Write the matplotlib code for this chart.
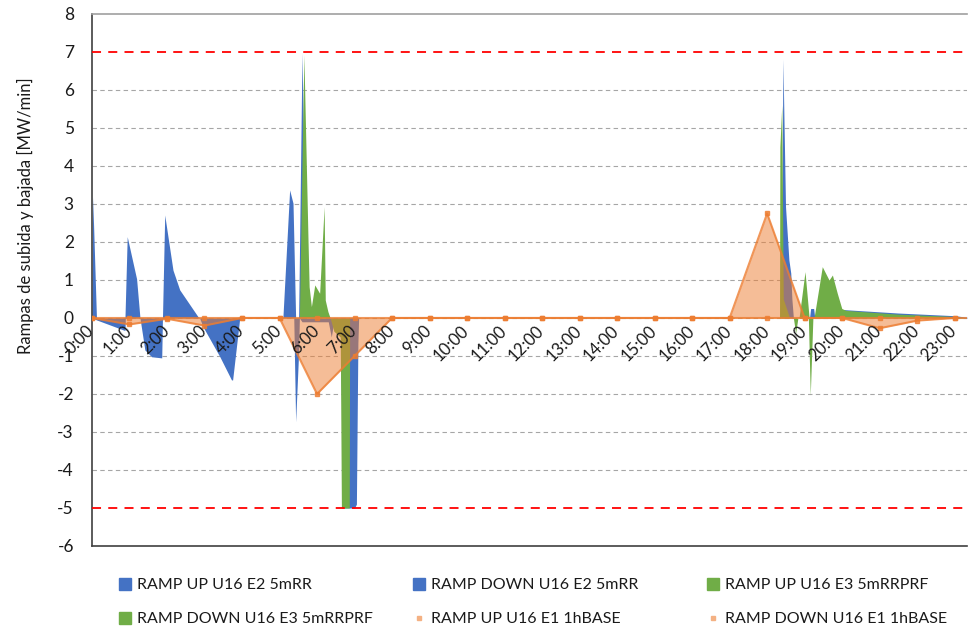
import numpy as np
import matplotlib.pyplot as plt
from matplotlib.lines import Line2D

plt.rcParams['font.family'] = ['Lato', 'DejaVu Sans']
plt.rcParams['axes.unicode_minus'] = False

# hourly categories on the axis
hour_labels = ['%d:00' % h for h in range(24)]
hours = np.arange(24)

# 5 min series, read as break points (hour, MW/min)
e2_up_t = [0, 0.02, 0.12, 0.88, 0.94, 1.19, 1.28, 1.88, 1.94, 2.16, 2.34, 2.83, 2.87,
           5.09, 5.27, 5.36, 5.43, 5.51, 5.60, 5.72, 18.38, 18.42, 18.49, 18.58, 18.63,
           18.66, 18.70, 19.13, 19.16, 19.24, 19.27, 19.40, 20.05, 21.5, 23.0, 23.33]
e2_up_v = [0, 3.18, 0, 0, 2.14, 1.03, 0, 0, 2.71, 1.26, 0.74, 0.03, 0,
           0, 3.37, 3.02, 0, 0, 6.97, 0, 0, 6.81, 2.93, 1.53, 1.18,
           0.5, 0, 0, 0.25, 0.25, 0, 0.2, 0.22, 0.13, 0.06, 0.02]

e2_down_t = [0, 0.12, 0.88, 0.89, 1.28, 1.41, 1.59, 1.86, 1.88, 2.87, 2.96, 3.41, 3.72, 3.75,
             3.94, 5.38, 5.43, 5.51, 5.53, 5.60, 6.30, 6.38, 6.45, 6.62, 6.70, 7.00, 7.05,
             7.09, 7.11, 23.33]
e2_down_v = [0, -0.05, -0.33, 0, 0, -0.84, -1.02, -1.05, 0, 0, -0.23, -1.02, -1.63, -1.63,
             0, 0, -2.73, -0.9, 0, -0.1, -0.1, -0.5, -0.1, -0.3, -5.0, -5.0, -4.9,
             -0.66, 0, 0]

e3_up_t = [0, 5.53, 5.65, 5.76, 5.79, 5.85, 5.94, 6.07, 6.19, 6.22, 6.29, 6.35, 18.33, 18.34,
           18.39, 18.43, 18.60, 18.85, 19.01, 19.12, 19.25, 19.47, 19.65, 19.74, 19.87, 19.99,
           20.10, 21.5, 23.0, 23.33]
e3_up_v = [0, 0, 6.92, 2.05, 0.82, 0.30, 0.87, 0.65, 2.93, 0.47, 0.17, 0, 0, 4.5,
           5.6, 0.5, 0, 0, 1.22, 0, 0, 1.35, 1.00, 1.13, 0.65, 0.25,
           0.20, 0.10, 0.04, 0]

e3_down_t = [0, 6.35, 6.45, 6.62, 6.65, 6.86, 6.87, 18.70, 18.76, 18.82, 19.10, 19.15, 19.22, 23.33]
e3_down_v = [0, 0, -0.35, -0.5, -5.0, -5.0, 0, 0, -0.4, 0, 0, -2.03, 0, 0]

# hourly base series
e1_up = [0, 0, 0, 0, 0, 0, 0, 0, 0, 0, 0, 0, 0, 0, 0, 0, 0, 0, 2.75, 0, 0, 0, 0, 0]
e1_down = [0, -0.17, -0.02, -0.2, 0, 0, -2.0, -1.0, 0, 0, 0, 0, 0, 0, 0, 0, 0, 0, 0, 0, 0,
           -0.27, -0.07, 0]

names = ['RAMP UP U16 E2 5mRR', 'RAMP DOWN U16 E2 5mRR', 'RAMP UP U16 E3 5mRRPRF',
         'RAMP DOWN U16 E3 5mRRPRF', 'RAMP UP U16 E1 1hBASE', 'RAMP DOWN U16 E1 1hBASE']

blue = '#4472C4'
green = '#70AD47'
orange = '#ED7D31'

fig = plt.figure(figsize=(9.69, 6.27), dpi=100)
ax = fig.add_axes([0.0949, 0.1292, 0.9031, 0.8485])

#grid
for y in range(-5, 8):
    if y in (7, -5):
        continue
    ax.axhline(y, color='#A6A6A6', lw=0.8, ls=(0, (4, 3)), zorder=0)

ax.fill_between(e2_up_t, e2_up_v, 0, color=blue, lw=0, zorder=1)
ax.fill_between(e2_down_t, e2_down_v, 0, color=blue, lw=0, zorder=1)
ax.fill_between(e3_up_t, e3_up_v, 0, color=green, lw=0, zorder=2)
ax.fill_between(e3_down_t, e3_down_v, 0, color=green, lw=0, zorder=2)
ax.fill_between(hours, e1_up, 0, color=orange, alpha=0.5, lw=0, zorder=3)
ax.fill_between(hours, e1_down, 0, color=orange, alpha=0.5, lw=0, zorder=3)
ax.plot(hours, e1_up, color=orange, lw=1.5, marker='s', ms=3, alpha=0.8, zorder=4)
ax.plot(hours, e1_down, color=orange, lw=1.5, marker='s', ms=3, alpha=0.8, zorder=4)
ax.plot([hours[-1], 23.33], [0, 0], color=orange, lw=1.5, alpha=0.8, zorder=4)

#limits
ax.axhline(7, color='#FF0000', lw=1.3, ls=(0, (5, 4)), zorder=6)
ax.axhline(-5, color='#FF0000', lw=1.3, ls=(0, (5, 4)), zorder=6)

ax.set_xlim(0, 23.33)
ax.set_ylim(-6, 8)
ax.set_yticks(range(-6, 9))
ax.set_xticks([])
ax.tick_params(axis='y', length=0, pad=13, labelsize=12.5, labelcolor='#1a1a1a')
for h, lbl in zip(hours, hour_labels):
    ax.text(h + 0.14, -0.12, lbl, rotation=45, ha='right', va='top',
            fontsize=12, color='#1a1a1a', zorder=7)

ax.spines['right'].set_visible(False)
ax.spines['top'].set_color('#A0A0A0')
ax.spines['bottom'].set_color('#404040')
ax.spines['left'].set_color('#404040')
for s in ('top', 'bottom', 'left'):
    ax.spines[s].set_linewidth(1.2)

ax.set_ylabel('Rampas de subida y bajada [MW/min]', fontsize=12, color='#1a1a1a')
ax.yaxis.set_label_coords(-0.066, 0.62)

#legend, three columns
handles = [Line2D([], [], ls='none', marker='s', ms=8, color=blue),
           Line2D([], [], ls='none', marker='s', ms=8, color=blue),
           Line2D([], [], ls='none', marker='s', ms=8, color=green),
           Line2D([], [], ls='none', marker='s', ms=8, color=green),
           Line2D([], [], ls='none', marker='s', ms=3, color='#F4B183'),
           Line2D([], [], ls='none', marker='s', ms=3, color='#F4B183')]
col_x = [117, 411, 705]
for c in range(3):
    idx = [c, c + 3]
    fig.legend([handles[i] for i in idx], [names[i] for i in idx],
               loc='upper left', bbox_to_anchor=(col_x[c] / 969, 1 - 578 / 627),
               frameon=False, fontsize=11.5, handlelength=1.0, handletextpad=0.25,
               borderpad=0, borderaxespad=0, labelspacing=1.25, labelcolor='#1a1a1a')

fig.savefig('out.png', dpi=100)
